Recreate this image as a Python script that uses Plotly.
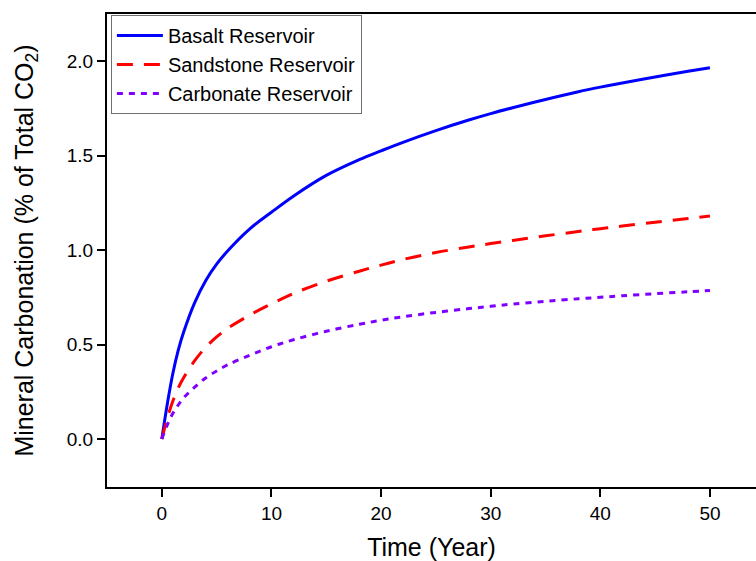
import plotly.graph_objects as go

time_years = [0, 0.5, 1, 1.5, 2, 3, 4, 5, 6, 8, 10, 12, 15, 18, 20, 22, 25, 28, 30, 32, 35, 38, 40, 42, 45, 48, 50]
basalt = [0, 0.185, 0.345, 0.47, 0.567, 0.722, 0.838, 0.925, 0.995, 1.111, 1.2, 1.285, 1.395, 1.478, 1.525, 1.57,
          1.632, 1.688, 1.722, 1.753, 1.797, 1.838, 1.862, 1.884, 1.916, 1.946, 1.965]
sandstone = [0, 0.11, 0.2, 0.27, 0.325, 0.415, 0.485, 0.54, 0.585, 0.655, 0.715, 0.77, 0.835, 0.888, 0.92, 0.95,
             0.987, 1.016, 1.034, 1.051, 1.075, 1.098, 1.113, 1.127, 1.147, 1.167, 1.18]
carbonate = [0, 0.075, 0.135, 0.18, 0.218, 0.275, 0.323, 0.36, 0.392, 0.443, 0.488, 0.525, 0.57, 0.607, 0.628,
             0.647, 0.67, 0.69, 0.702, 0.714, 0.729, 0.742, 0.75, 0.758, 0.769, 0.779, 0.786]

series_names = ["Basalt Reservoir", "Sandstone Reservoir", "Carbonate Reservoir"]
x_ticks = [0, 10, 20, 30, 40, 50]
y_ticks = [0.0, 0.5, 1.0, 1.5, 2.0]

FONT = "Arial, Liberation Sans, sans-serif"

fig = go.Figure()
fig.add_trace(go.Scatter(x=time_years, y=basalt, mode="lines", name=series_names[0],
                         line=dict(color="#0000FF", width=3, shape="spline", smoothing=1.0)))
fig.add_trace(go.Scatter(x=time_years, y=sandstone, mode="lines", name=series_names[1],
                         line=dict(color="#FF0000", width=3, dash="16px,11px", shape="spline", smoothing=1.0)))
fig.add_trace(go.Scatter(x=time_years, y=carbonate, mode="lines", name=series_names[2],
                         line=dict(color="#7F00FF", width=3, dash="6px,6px", shape="spline", smoothing=1.0)))

fig.update_layout(
    width=756, height=561,
    margin=dict(l=107, r=0, t=14, b=74),
    paper_bgcolor="white", plot_bgcolor="white",
    font=dict(family=FONT, color="black"),
    showlegend=True,
    legend=dict(x=0.006, y=0.998, xanchor="left", yanchor="top",
                bordercolor="#707070", borderwidth=1, bgcolor="white",
                font=dict(size=20, family=FONT, color="black"),
                tracegroupgap=0, itemwidth=46),
    xaxis=dict(range=[-5, 54.2], tickvals=x_ticks, ticktext=[str(v) for v in x_ticks],
               showline=True, linecolor="black", linewidth=2, mirror=True,
               ticks="outside", ticklen=8, tickwidth=2, tickcolor="black",
               showgrid=False, zeroline=False,
               tickfont=dict(size=19, family=FONT),
               title=dict(text="Time (Year)", font=dict(size=25, family=FONT), standoff=18)),
    yaxis=dict(range=[-0.254, 2.249], tickvals=y_ticks, ticktext=["%.1f" % v for v in y_ticks],
               showline=True, linecolor="black", linewidth=2, mirror=False,
               ticks="outside", ticklen=8, tickwidth=2, tickcolor="black",
               showgrid=False, zeroline=False,
               tickfont=dict(size=19, family=FONT),
               title=dict(text="Mineral Carbonation (% of Total CO<sub>2</sub>)",
                          font=dict(size=25, family=FONT), standoff=26)),
)

fig.write_html("out.html")
